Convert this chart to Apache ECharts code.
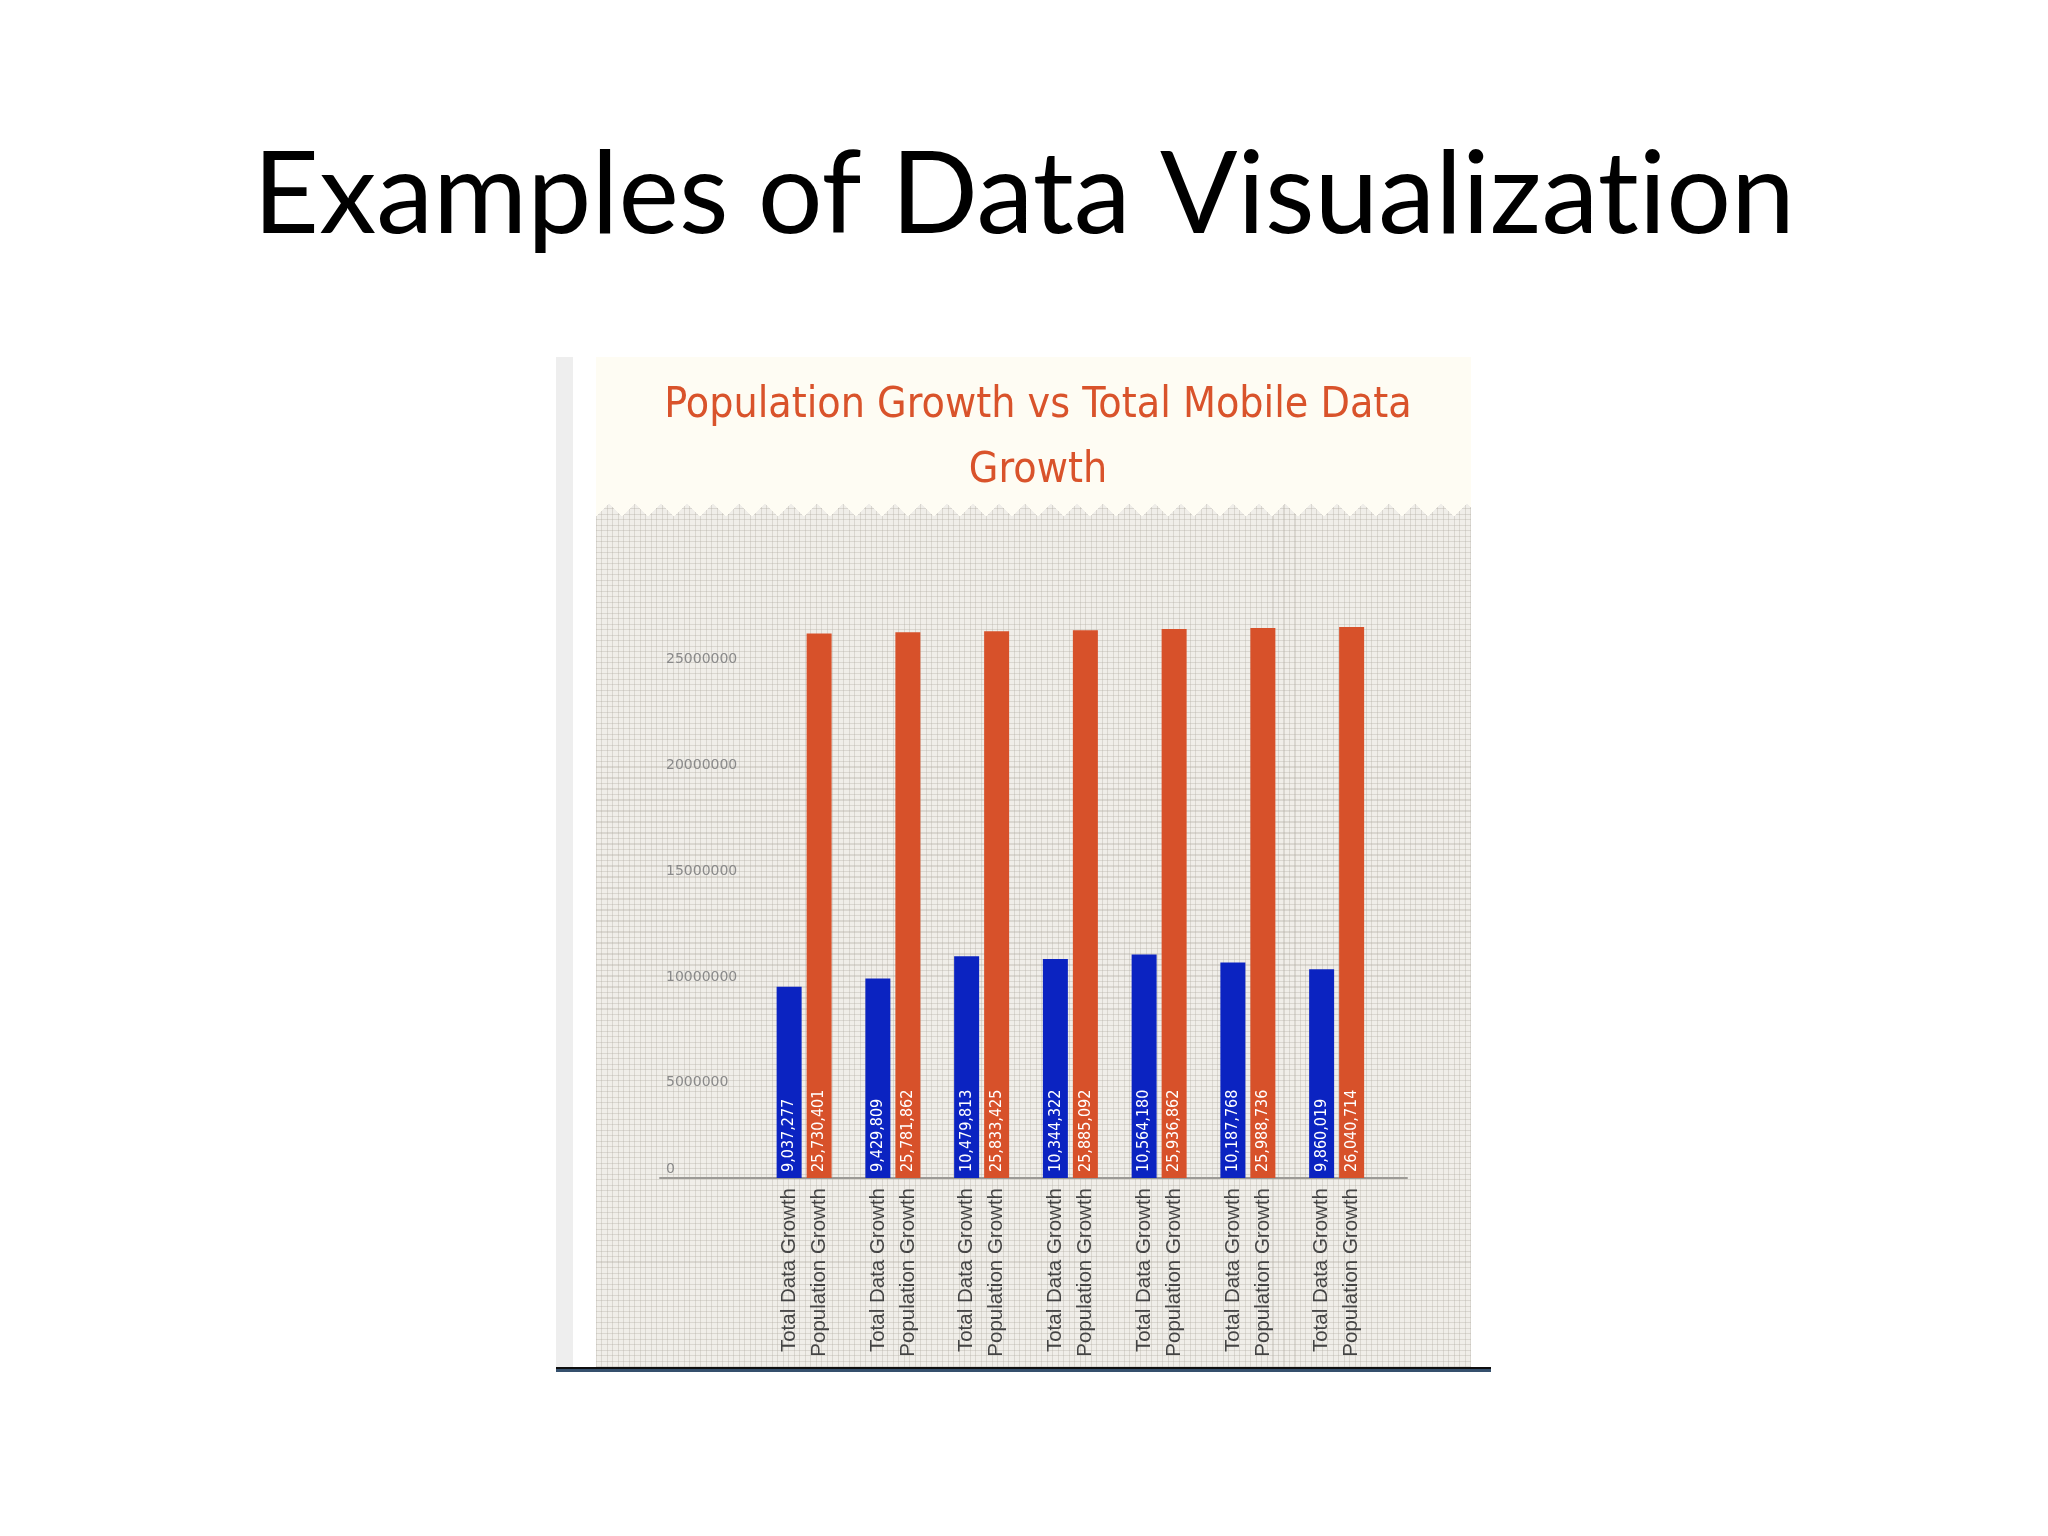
<!DOCTYPE html>
<html>
<head>
<meta charset="utf-8">
<script src="https://cdn.jsdelivr.net/npm/echarts@6/dist/echarts.min.js"></script>
<style>
  html, body { margin: 0; padding: 0; background: #ffffff; }
  .stage { position: relative; width: 2048px; height: 1536px; overflow: hidden; }
  .strip { position: absolute; left: 556px; top: 357px; width: 17px; height: 1010px; background: #eeeeee; }
  .panel-head { position: absolute; left: 596px; top: 357px; width: 875px; height: 146px; background: #fefcf3; }
  .paper {
    position: absolute; left: 596px; top: 503px; width: 875px; height: 864px;
    background-color: #f0eee9;
    background-image:
      repeating-linear-gradient(0deg, rgba(175,170,160,0.34) 0 1px, transparent 1px 5.5px),
      repeating-linear-gradient(90deg, rgba(175,170,160,0.34) 0 1px, transparent 1px 5.5px);
  }
  .zigzag {
    position: absolute; left: 596px; top: 503px; width: 875px; height: 13px;
    background-image:
      linear-gradient(135deg, #fefcf3 50%, transparent 50%),
      linear-gradient(225deg, #fefcf3 50%, transparent 50%);
    background-size: 26px 26px;
    background-position: 0 -13px;
  }
  .baseline { position: absolute; left: 556px; top: 1367px; width: 935px; height: 3px; background: #35506d; border-top: 2px solid #0e0e0e; }
  #chart { position: absolute; left: 0; top: 0; width: 2048px; height: 1536px; }
</style>
</head>
<body>
<div class="stage">
  <div class="strip"></div>
  <div class="panel-head"></div>
  <div class="paper"></div>
  <div class="zigzag"></div>
  <div class="baseline"></div>
  <div id="chart"></div>
</div>
<script>
// groups along the x axis (no names shown in the picture, one pair of bars each)
const groups = ['1', '2', '3', '4', '5', '6', '7']
const seriesNames = ['Total Data Growth', 'Population Growth']
const totalData = [9037277, 9429809, 10479813, 10344322, 10564180, 10187768, 9860019]
const population = [25730401, 25781862, 25833425, 25885092, 25936862, 25988736, 26040714]
const yTicks = [0, 5000000, 10000000, 15000000, 20000000, 25000000]

const chart = echarts.init(document.getElementById('chart'))

const condensed = '"DejaVu Sans Condensed", "Liberation Sans Narrow", sans-serif'
const slideFont = { fontFamily: 'Lato', fontSize: 114.5, lineHeight: 114, fontWeight: 'normal', color: '#000000' }

const barLabel = {
  show: true,
  position: 'insideBottom',
  rotate: 90,
  align: 'left',
  verticalAlign: 'middle',
  distance: 6,
  color: '#ffffff',
  fontFamily: condensed,
  fontSize: 16,
  formatter: p => p.value.toLocaleString('en-US'),
}

chart.setOption({
  backgroundColor: 'transparent',
  animation: false,
  title: [
    {
      // split between "t" and "i" so Lato does not draw its "ti" ligature
      text: '{s|Examples of Data Visualizat}{s|ion}',
      left: 'center',
      top: 134,
      textStyle: { ...slideFont, rich: { s: slideFont } },
    },
    {
      text: 'Population Growth vs Total Mobile Data\nGrowth',
      left: 1033,
      textAlign: 'center',
      top: 368,
      textStyle: {
        fontFamily: condensed,
        fontSize: 42.5, lineHeight: 65, fontWeight: 'normal', color: '#d9532b',
      },
    },
  ],
  grid: [
    { left: 671, right: 667, top: 596, bottom: 358 },
    // only used for the long baseline of the plot
    { left: 660, right: 641, top: 596, bottom: 358 },
  ],
  xAxis: [
    {
      type: 'category',
      data: groups,
      min: -1,
      axisLine: { show: false },
      axisTick: { show: false },
      splitLine: { show: false },
      axisLabel: {
        interval: 0,
        rotate: 90,
        margin: 10,
        fontFamily: '"Liberation Sans", Arial, sans-serif',
        fontSize: 20.5,
        lineHeight: 30,
        color: '#444444',
        formatter: v => groups.includes(v) ? seriesNames.join('\n') : '',
      },
    },
    {
      type: 'value',
      gridIndex: 1,
      axisLine: { show: true, lineStyle: { color: '#9c9a96', width: 2 } },
      axisTick: { show: false },
      axisLabel: { show: false },
      splitLine: { show: false },
    },
  ],
  yAxis: [
    {
      type: 'value',
      min: yTicks[0],
      max: 27500000,
      interval: yTicks[1] - yTicks[0],
      axisLine: { show: false },
      axisTick: { show: false },
      splitLine: { show: false },
      axisLabel: {
        showMaxLabel: false,
        align: 'left',
        margin: 5,
        fontFamily: '"DejaVu Sans", sans-serif',
        fontSize: 14,
        color: '#8a8a8a',
        formatter: v => yTicks.includes(v) ? (v === 0 ? '{z|0}' : '{n|' + v + '}') : '',
        rich: {
          n: { padding: [21, 0, 0, 0], fontFamily: '"DejaVu Sans", sans-serif', fontSize: 14, color: '#8a8a8a' },
          z: { padding: [0, 0, 18, 0], fontFamily: '"DejaVu Sans", sans-serif', fontSize: 14, color: '#8a8a8a' },
        },
      },
    },
    {
      type: 'value',
      gridIndex: 1,
      show: false,
    },
  ],
  series: [
    {
      name: seriesNames[0],
      type: 'bar',
      data: totalData,
      barWidth: 25,
      barGap: '20%',
      itemStyle: { color: '#0b23c1' },
      label: barLabel,
    },
    {
      name: seriesNames[1],
      type: 'bar',
      data: population,
      barWidth: 25,
      itemStyle: { color: '#d7512a' },
      label: barLabel,
    },
  ],
})
</script>
</body>
</html>
